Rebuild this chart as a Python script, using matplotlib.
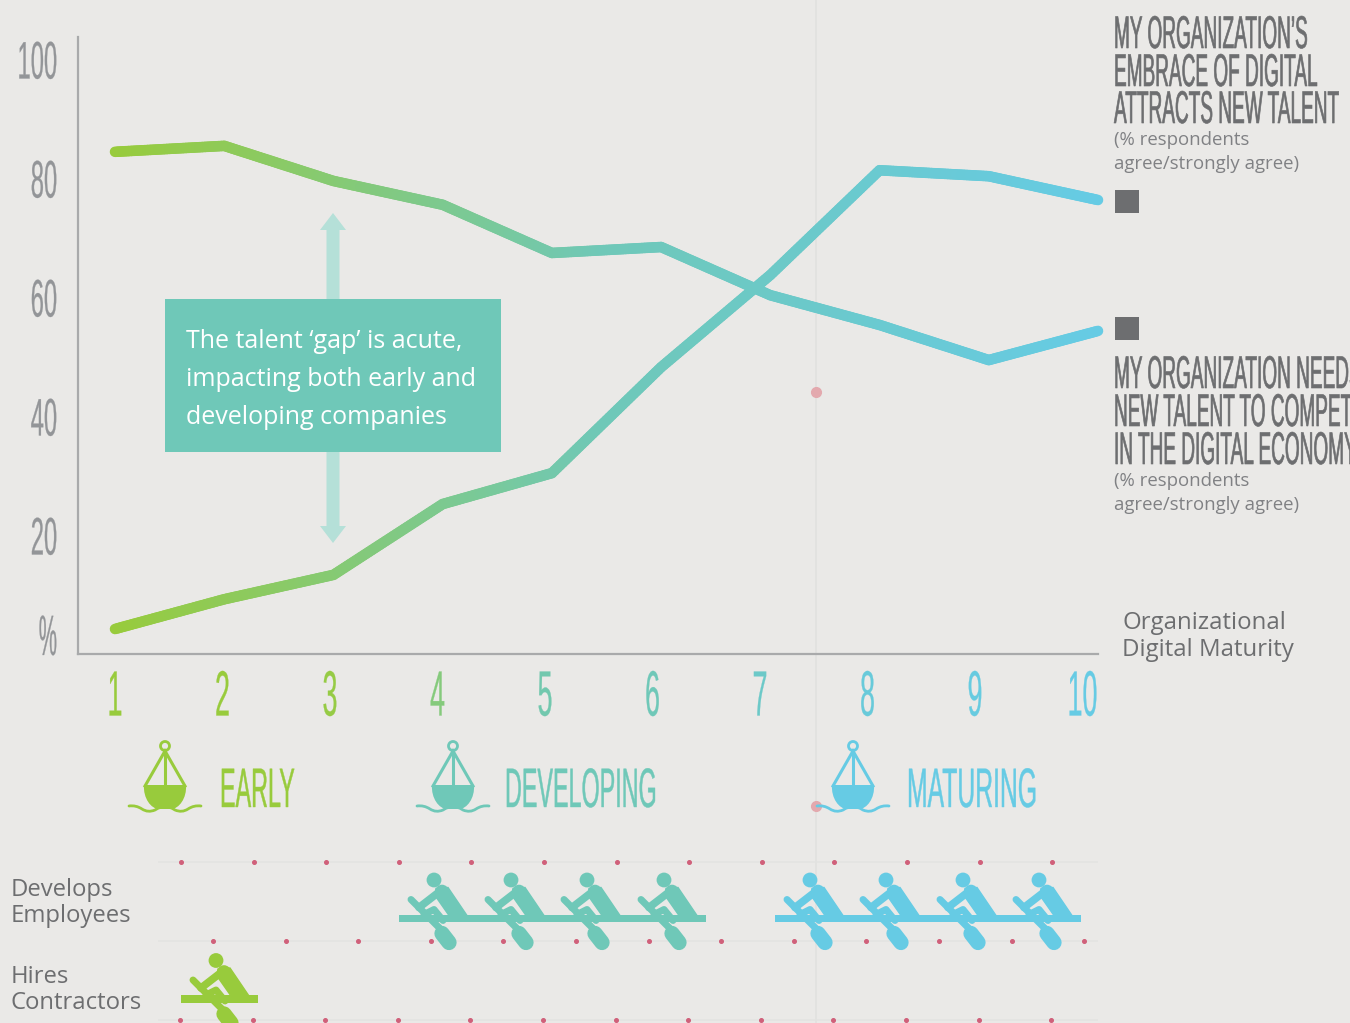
import numpy as np
import matplotlib
matplotlib.use('Agg')
import matplotlib.pyplot as plt
from matplotlib.collections import LineCollection
from matplotlib.colors import LinearSegmentedColormap
from matplotlib.patches import Circle, FancyArrow, PathPatch, Rectangle
from matplotlib.path import Path
from matplotlib.patheffects import AbstractPathEffect
from matplotlib.transforms import Affine2D

maturity = [1, 2, 3, 4, 5, 6, 7, 8, 9, 10]
attracts_talent = [84.4, 85.4, 79.5, 75.5, 67.4, 68.4, 60.3, 55.3, 49.4, 54.3]
needs_talent = [4.2, 9.2, 13.3, 25.2, 30.4, 48.2, 63.7, 81.3, 80.3, 76.3]
y_ticks = [20, 40, 60, 80, 100]
tick_colors = ['#98cb3c', '#98cb3c', '#96cb45', '#85ca7c', '#72c8ae',
               '#6fc8b8', '#6cc9c8', '#68cada', '#67cbe0', '#66cbe4']
stages = ['EARLY', 'DEVELOPING', 'MATURING']
row_labels = [['Develops', 'Employees'], ['Hires', 'Contractors']]

GREEN = '#98cb3c'
TEAL = '#6fc8b8'
BLUE = '#66cbe4'
GREY = '#6d6e70'
AXIS_GREY = '#939598'
BG = '#eae9e7'
FONT = 'Open Sans'
NARROW = 'Liberation Sans'


class Squeeze(AbstractPathEffect):
    # narrows the glyphs around a pixel x, there is no compressed font here
    def __init__(self, sx, x0, lw=0.0):
        self.sx = sx
        self.x0 = x0
        self.lw = lw

    def draw_path(self, renderer, gc, tpath, affine, rgbFace=None):
        squeeze = Affine2D().translate(-self.x0, 0).scale(self.sx, 1).translate(self.x0, 0)
        gc0 = renderer.new_gc()
        gc0.copy_properties(gc)
        gc0.set_linewidth(self.lw)
        if rgbFace is not None:
            gc0.set_foreground(rgbFace)
        renderer.draw_path(gc0, tpath, affine + squeeze, rgbFace)
        gc0.restore()


def tall_text(ax, x, y, s, size, sx, color, ha='left', lw=0.2):
    t = ax.text(x, y, s, fontsize=size, family=NARROW, color=color, ha=ha, va='center_baseline')
    # pixel x is figure x here, the overlay has the size of the figure
    t.set_path_effects([Squeeze(sx, x, lw)])
    return t


def buoy(ax, cx, color):
    ax.add_patch(Circle((cx, 746), 4.5, fc='none', ec=color, lw=2))
    ax.plot([cx - 20, cx, cx + 20], [786, 751, 786], color=color, lw=2.2, solid_joinstyle='miter')
    ax.plot([cx, cx], [751, 786], color=color, lw=2.2)
    hull = Path([(cx - 21, 785), (cx + 21, 785), (cx + 22, 798), (cx + 14, 809), (cx + 6, 809),
                 (cx - 6, 809), (cx - 14, 809), (cx - 22, 798), (cx - 21, 785)],
                [Path.MOVETO, Path.LINETO, Path.CURVE4, Path.CURVE4, Path.CURVE4,
                 Path.LINETO, Path.CURVE4, Path.CURVE4, Path.CURVE4])
    ax.add_patch(PathPatch(hull, fc=color, ec='none'))
    wave = Path([(cx - 36, 806), (cx - 29, 805), (cx - 23, 809), (cx - 17, 813), (cx - 10, 810),
                 (cx - 4, 806), (cx, 807), (cx + 4, 806), (cx + 10, 810), (cx + 17, 813),
                 (cx + 23, 809), (cx + 29, 805), (cx + 36, 806)],
                [Path.MOVETO] + [Path.CURVE3] * 12)
    ax.add_patch(PathPatch(wave, fc='none', ec=color, lw=2, capstyle='round'))


def rower(ax, x, y, color):
    # x is the left end of the boat, y its middle
    ax.add_patch(Rectangle((x, y - 3.7), 77, 7.4, fc=color, ec='none'))
    ax.add_patch(Circle((x + 35, y - 38.5), 7.4, fc=color, ec='none'))
    ax.add_patch(Circle((x + 43, y - 27), 6.8, fc=color, ec='none'))
    torso = [(x + 37, y - 30), (x + 49, y - 31), (x + 68, y - 3), (x + 50, y - 3), (x + 36, y - 23)]
    ax.fill([p[0] for p in torso], [p[1] for p in torso], color=color, lw=1, ec=color)
    ax.plot([x + 42, x + 20], [y - 28, y - 11], color=color, lw=5.5, solid_capstyle='round')
    ax.plot([x + 12, x + 50], [y - 19, y + 19], color=color, lw=5, solid_capstyle='round')
    ax.plot([x + 43, x + 50], [y + 15, y + 24], color=color, lw=11, solid_capstyle='round')
    ax.plot([x + 25, x + 35, x + 44], [y - 4, y - 9, y + 2], color=color, lw=5, solid_capstyle='round')


fig = plt.figure(figsize=(13.5, 10.23), dpi=100, facecolor=BG)

# chart axes, x=1 sits at pixel 115 and x=10 at pixel 1098
ax = fig.add_axes([78 / 1350, 1 - 654 / 1023, 1020 / 1350, 617 / 1023], facecolor='none')
ax.set_zorder(2)
ax.set_xlim(1 - 37 / 109.2, 10)
ax.set_ylim(0, 617 / 5.95)
for side in ['top', 'right']:
    ax.spines[side].set_visible(False)
for side in ['left', 'bottom']:
    ax.spines[side].set_color('#a9aaab')
    ax.spines[side].set_linewidth(1.6)
ax.set_xticks([])
ax.set_yticks(y_ticks)
ax.set_yticklabels([str(v) for v in y_ticks], fontsize=38, family=NARROW, color=AXIS_GREY)
ax.tick_params(axis='y', length=0, pad=15)
for lab in ax.get_yticklabels():
    lab.set_path_effects([Squeeze(0.45, 57, 0.2)])
    lab.set_verticalalignment('center_baseline')

cmap = LinearSegmentedColormap.from_list('maturity', [GREEN, TEAL, BLUE])
for series in [attracts_talent, needs_talent]:
    # short pieces only so that the colour can run along the line
    xs = np.linspace(1, 10, 361)
    ys = np.interp(xs, maturity, series)
    pts = np.column_stack([xs, ys])
    segs = np.stack([pts[:-1], pts[1:]], axis=1)
    lc = LineCollection(segs, colors=cmap((xs[:-1] - 1) / 9), linewidths=7.6, capstyle='round', clip_on=False)
    ax.add_collection(lc)

# overlay in image pixels for the infographic parts
ov = fig.add_axes([0, 0, 1, 1], facecolor='none')
ov.set_xlim(0, 1350)
ov.set_ylim(1023, 0)
ov.axis('off')

ov.plot([816, 816], [0, 1023], color='#e1e1df', lw=1.2, zorder=0)
ov.plot([816, 816], [392, 806], 'o', color='#e3a9ae', ms=7, zorder=1)

for cy, tip in [(378, 213), (378, 543)]:
    ov.add_patch(FancyArrow(333, cy, 0, tip - cy, width=13, head_width=26, head_length=17,
                            length_includes_head=True, fc='#b5e0d8', ec='none'))
ov.add_patch(Rectangle((165, 299), 336, 153, fc=TEAL, ec='none'))
for yy, s in zip([341, 379, 417], ['The talent \u2018gap\u2019 is acute,', 'impacting both early and', 'developing companies']):
    ov.text(186, yy, s, fontsize=18, family=FONT, color='white', va='center')

for i, lab in enumerate(maturity):
    tall_text(ov, 115 + 107.5 * i, 692, str(lab), 46, 0.42, tick_colors[i], ha='center')
tall_text(ov, 57, 634, '%', 41, 0.36, AXIS_GREY, ha='right')

for cx, tx, stage, sx, color in zip([165, 453, 853], [220, 505, 907], stages, [0.42, 0.42, 0.445], [GREEN, TEAL, BLUE]):
    buoy(ov, cx, color)
    tall_text(ov, tx, 787, stage, 40, sx, color, lw=0.3)

# right side headings
for yy, s in zip([31, 69, 106], ['MY ORGANIZATION\u2019S', 'EMBRACE OF DIGITAL', 'ATTRACTS NEW TALENT']):
    tall_text(ov, 1114, yy, s, 33, 0.415, GREY, lw=0.45)
for yy, s in zip([371, 409, 447], ['MY ORGANIZATION NEEDS', 'NEW TALENT TO COMPETE', 'IN THE DIGITAL ECONOMY']):
    tall_text(ov, 1114, yy, s, 33, 0.415, GREY, lw=0.45)
for base in [140, 481]:
    ov.text(1114, base, '(% respondents', fontsize=13.4, family=FONT, color='#808184', va='center')
    ov.text(1114, base + 24, 'agree/strongly agree)', fontsize=13.4, family=FONT, color='#808184', va='center')
for top in [190, 317]:
    ov.add_patch(Rectangle((1115, top), 24, 23, fc=GREY, ec='none'))
ov.text(1122, 623, 'Organizational', fontsize=17.3, family=FONT, color=GREY, va='center')
ov.text(1122, 650, 'Digital Maturity', fontsize=17.3, family=FONT, color=GREY, va='center')

# rows of rowers
for yy, start in [(862, 181), (941, 213), (1020, 180)]:
    ov.plot([158, 1098], [yy, yy], color='#e3e3e1', lw=1.2, zorder=0, solid_capstyle='butt')
    ov.plot(np.arange(13) * 72.6 + start, [yy] * 13, 'o', color='#d0607a', ms=2.6, zorder=1)
for x0 in [399, 476, 552, 629]:
    rower(ov, x0, 918.5, TEAL)
for x0 in [775, 851, 928, 1004]:
    rower(ov, x0, 918.5, BLUE)
rower(ov, 181, 999, GREEN)
for base, lines in zip([890, 977], row_labels):
    ov.text(11, base, lines[0], fontsize=17.2, family=FONT, color=GREY, va='center')
    ov.text(11, base + 26, lines[1], fontsize=17.2, family=FONT, color=GREY, va='center')

fig.savefig('out.png', dpi=100, facecolor=BG)
